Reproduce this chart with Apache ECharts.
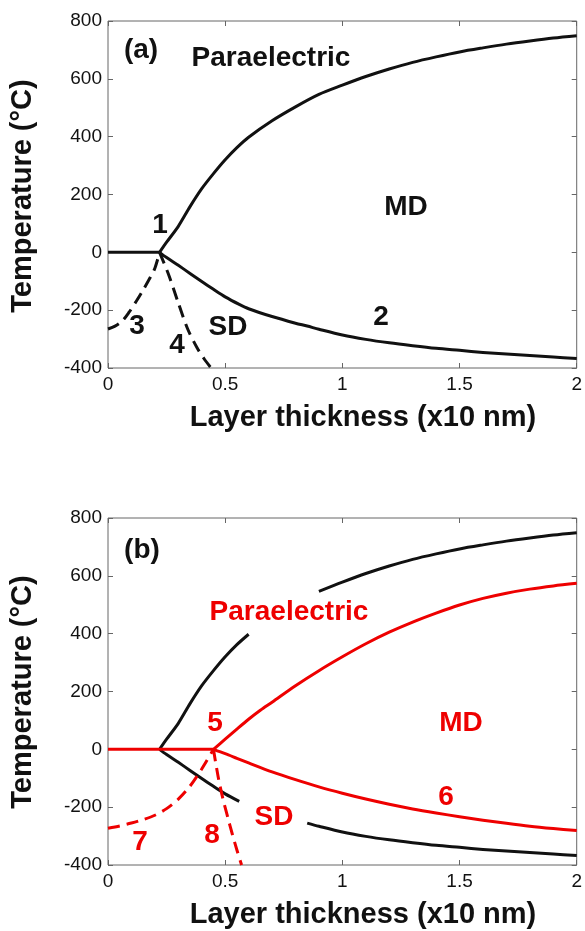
<!DOCTYPE html>
<html><head><meta charset="utf-8">
<script src="https://cdn.jsdelivr.net/npm/echarts@6/dist/echarts.min.js"></script>
<style>html,body{margin:0;padding:0;background:#fff}#c{width:585px;height:931px}</style>
</head><body><div id="c"></div>
<script>
// ---- axis settings ----
const xMin = 0, xMax = 2, xStep = 0.5;
const yMin = -400, yMax = 800, yStep = 200;
const xTitle = 'Layer thickness (x10 nm)';
const yTitle = 'Temperature (°C)';

// ---- panel (a) data : [thickness, temperature] ----
const flatA = [[0, 0], [0.22, 0]];
const curve1 = [[0.22,0],[0.25,35],[0.3,90],[0.35,158],[0.4,220],[0.45,272],[0.5,320],[0.55,362],[0.6,398],[0.7,455],[0.8,503],[0.9,546],[1.0,578],[1.1,608],[1.2,634],[1.3,657],[1.4,676],[1.5,693],[1.6,707],[1.7,720],[1.8,731],[1.9,741],[2.0,749]];
const curve2 = [[0.22,0],[0.25,-18],[0.3,-45],[0.35,-73],[0.4,-101],[0.45,-128],[0.5,-154],[0.56,-180],[0.6,-195],[0.7,-222],[0.8,-245],[0.85,-255],[0.9,-266],[1.0,-286],[1.1,-301],[1.2,-313],[1.3,-323],[1.4,-332],[1.5,-339],[1.6,-346],[1.7,-352],[1.8,-357],[1.9,-362],[2.0,-367]];
const curve3 = [[0,-265],[0.03,-255],[0.06,-238],[0.09,-207],[0.12,-170],[0.15,-130],[0.18,-87],[0.2,-55],[0.22,0]];
const curve4 = [[0.22,0],[0.26,-80],[0.3,-175],[0.34,-265],[0.38,-330],[0.41,-368],[0.44,-400]];

// ---- panel (b) data ----
const gap1 = [0.6, 0.9];    // part of curve 1 hidden behind the label
const gap2 = [0.56, 0.85];  // part of curve 2 hidden behind the label
const flatB = [[0, 0], [0.45, 0]];
const curve5 = [[0.45,0],[0.5,35],[0.55,70],[0.6,104],[0.65,135],[0.7,163],[0.8,220],[0.9,272],[1.0,320],[1.1,365],[1.2,405],[1.3,440],[1.4,471],[1.5,499],[1.6,522],[1.7,540],[1.8,554],[1.9,565],[2.0,574]];
const curve6 = [[0.45,0],[0.5,-15],[0.55,-31],[0.6,-47],[0.7,-78],[0.8,-105],[0.9,-130],[1.0,-152],[1.1,-172],[1.2,-190],[1.3,-206],[1.4,-220],[1.5,-233],[1.6,-245],[1.7,-256],[1.8,-266],[1.9,-274],[2.0,-281]];
const curve7 = [[0,-273],[0.05,-265],[0.1,-255],[0.15,-243],[0.2,-228],[0.25,-205],[0.3,-172],[0.35,-127],[0.4,-68],[0.45,0]];
const curve8 = [[0.45,0],[0.47,-95],[0.49,-170],[0.51,-232],[0.53,-292],[0.55,-348],[0.57,-400]];

const BLACK = '#111', RED = '#ee0000', FRAME = '#666';
const FONT = '"Liberation Sans", Arial, sans-serif';

const before = (d, g) => d.filter(p => p[0] <= g[0]);
const after = (d, g) => d.filter(p => p[0] >= g[1]);

function line(panel, data, color, dashed, z) {
  return {
    type: 'line', xAxisIndex: panel * 2, yAxisIndex: panel * 2, data,
    showSymbol: false, symbol: 'none', smooth: 0.3,
    clip: true, z: z || 2, silent: true, animation: false,
    lineStyle: { color, width: 3, type: dashed ? [12, 7] : 'solid', cap: 'butt', join: 'round' }
  };
}

const grids = [
  { left: 108, top: 21, width: 470, height: 347 },
  { left: 108, top: 518, width: 470, height: 347 }
].map(g => Object.assign(g, { show: true, borderColor: FRAME, borderWidth: 1, backgroundColor: '#fff' }));

const xAxes = [], yAxes = [];
[0, 1].forEach(p => {
  const tick = { show: true, inside: true, length: 5, lineStyle: { color: FRAME } };
  const noLine = { show: false, onZero: false };
  xAxes.push({ type: 'value', gridIndex: p, min: xMin, max: xMax, interval: xStep, position: 'bottom',
    axisLine: noLine, axisTick: tick, splitLine: { show: false },
    axisLabel: { fontFamily: FONT, fontSize: 19, color: '#111', margin: 7 } });
  xAxes.push({ type: 'value', gridIndex: p, min: xMin, max: xMax, interval: xStep, position: 'top',
    axisLine: noLine, axisTick: tick, splitLine: { show: false }, axisLabel: { show: false } });
  yAxes.push({ type: 'value', gridIndex: p, min: yMin, max: yMax, interval: yStep, position: 'left',
    axisLine: noLine, axisTick: tick, splitLine: { show: false },
    axisLabel: { fontFamily: FONT, fontSize: 19, color: '#111', margin: 6 } });
  yAxes.push({ type: 'value', gridIndex: p, min: yMin, max: yMax, interval: yStep, position: 'right',
    axisLine: noLine, axisTick: tick, splitLine: { show: false }, axisLabel: { show: false } });
});

const series = [
  line(0, flatA, BLACK), line(0, curve1, BLACK), line(0, curve2, BLACK),
  line(0, curve3, BLACK, true), line(0, curve4, BLACK, true),
  line(1, before(curve1, gap1), BLACK), line(1, after(curve1, gap1), BLACK),
  line(1, before(curve2, gap2), BLACK), line(1, after(curve2, gap2), BLACK),
  line(1, flatB, RED, false, 3), line(1, curve5, RED, false, 3), line(1, curve6, RED, false, 3),
  line(1, curve7, RED, true, 3), line(1, curve8, RED, true, 3)
];

function txt(text, x, y, color, size, opts) {
  return Object.assign({ type: 'text', x, y, z: 10, silent: true,
    style: { text, fill: color, font: 'bold ' + size + 'px ' + FONT, textAlign: 'center', textVerticalAlign: 'middle' } }, opts || {});
}

const graphic = [
  // axis titles
  txt(yTitle, 23, 196, BLACK, 29, { rotation: Math.PI / 2 }),
  txt(xTitle, 363, 418, BLACK, 29),
  txt(yTitle, 23, 692, BLACK, 29, { rotation: Math.PI / 2 }),
  txt(xTitle, 363, 915, BLACK, 29),
  // panel (a)
  txt('(a)', 141, 50, BLACK, 28),
  txt('Paraelectric', 271, 58, BLACK, 28),
  txt('1', 160, 225, BLACK, 28),
  txt('MD', 406, 207, BLACK, 28),
  txt('2', 381, 317, BLACK, 28),
  txt('3', 137, 326, BLACK, 28),
  txt('SD', 228, 327, BLACK, 28),
  txt('4', 177, 345, BLACK, 28),
  // panel (b)
  txt('(b)', 142, 550, BLACK, 28),
  txt('Paraelectric', 289, 612, RED, 28),
  txt('5', 215, 723, RED, 28),
  txt('MD', 461, 723, RED, 28),
  txt('6', 446, 797, RED, 28),
  txt('SD', 274, 817, RED, 28),
  txt('7', 140, 842, RED, 28),
  txt('8', 212, 835, RED, 28)
];

const chart = echarts.init(document.getElementById('c'), null, { renderer: 'canvas' });
chart.setOption({
  animation: false, backgroundColor: '#fff',
  grid: grids, xAxis: xAxes, yAxis: yAxes, series, graphic
});
</script></body></html>
